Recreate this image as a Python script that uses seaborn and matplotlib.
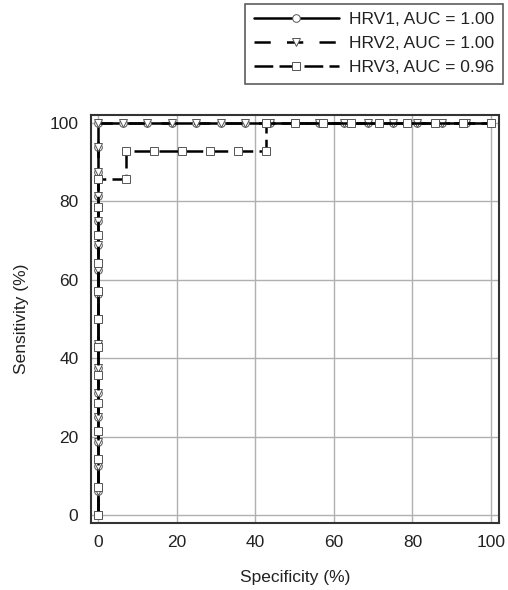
import numpy as np
import pandas as pd
import matplotlib
matplotlib.use("Agg")
import matplotlib.pyplot as plt
import seaborn as sns
from matplotlib.lines import Line2D

# ROC points (x = "Specificity (%)" axis as labelled, y = Sensitivity (%))
hrv1_x = [0]*17 + [6.25, 12.5, 18.75, 25, 31.25, 37.5, 43.75, 50, 56.25, 62.5, 68.75, 75, 81.25, 87.5, 93.75, 100]
hrv1_y = [0, 6.25, 12.5, 18.75, 25, 31.25, 37.5, 43.75, 50, 56.25, 62.5, 68.75, 75, 81.25, 87.5, 93.75, 100] + [100]*16
hrv2_x = list(hrv1_x)
hrv2_y = list(hrv1_y)
hrv3_x = [0]*13 + [7.14, 7.14, 14.29, 21.43, 28.57, 35.71, 42.86, 42.86, 50, 57.14, 64.29, 71.43, 78.57, 85.71, 92.86, 100]
hrv3_y = [0, 7.14, 14.29, 21.43, 28.57, 35.71, 42.86, 50, 57.14, 64.29, 71.43, 78.57, 85.71,
          85.71, 92.86, 92.86, 92.86, 92.86, 92.86, 92.86, 100, 100, 100, 100, 100, 100, 100, 100, 100]
labels = ["HRV1, AUC = 1.00", "HRV2, AUC = 1.00", "HRV3, AUC = 0.96"]
ticks = [0, 20, 40, 60, 80, 100]

rows = []
for lab, xs, ys in zip(labels, [hrv1_x, hrv2_x, hrv3_x], [hrv1_y, hrv2_y, hrv3_y]):
    for i, (a, b) in enumerate(zip(xs, ys)):
        rows.append({"model": lab, "x": a, "y": b, "order": i})
df = pd.DataFrame(rows)

sns.set_style("white")
plt.rcParams['font.family'] = ['Liberation Sans', 'DejaVu Sans']
fs = 12.5

fig = plt.figure(figsize=(5.08, 5.90), dpi=100)
ax = fig.add_axes([0.179, 0.1136, 0.803, 0.6914])

dash2 = (6.5, 6.5)
dash3 = (7.5, 2.5)
mk = dict(markersize=5.5, markerfacecolor="white", markeredgecolor="#555555", markeredgewidth=0.7)

sns.lineplot(data=df, x="x", y="y", style="model", units="model", estimator=None, sort=False,
             dashes={labels[0]: "", labels[1]: dash2, labels[2]: dash3},
             markers={labels[0]: "o", labels[1]: "v", labels[2]: "s"},
             color="black", linewidth=1.8, ax=ax, legend=False, **mk)

ax.set_xlim(-1.8, 102)
ax.set_ylim(-2, 102)
ax.set_xticks(ticks)
ax.set_yticks(ticks)
ax.grid(True, color="#b0b0b0", linewidth=1)
ax.set_axisbelow(True)
for s in ax.spines.values():
    s.set_color("#333333")
    s.set_linewidth(1.5)
ax.tick_params(axis="both", direction="out", length=5, width=1, color="#333333", labelsize=fs, pad=4,
               labelcolor="#222222")
ax.set_xlabel("Specificity (%)", fontsize=fs, labelpad=14, color="#222222")
ax.set_ylabel("Sensitivity (%)", fontsize=fs, labelpad=15, color="#222222")

handles = [
    Line2D([], [], color="black", lw=1.8, ls="-", marker="o", **mk),
    Line2D([], [], color="black", lw=1.8, ls=(0, dash2), marker="v", **mk),
    Line2D([], [], color="black", lw=1.8, ls=(0, dash3), marker="s", **mk),
]
leg = fig.legend(handles, labels, loc="upper right", bbox_to_anchor=(0.994, 0.997), frameon=True, fancybox=False,
                 edgecolor="#333333", fontsize=fs, handlelength=4.9, labelspacing=0.5, borderpad=0.5,
                 handletextpad=0.6, borderaxespad=0.1)
leg.get_frame().set_linewidth(1.2)
for t in leg.get_texts():
    t.set_color("#222222")

fig.savefig("out.png", dpi=100)
